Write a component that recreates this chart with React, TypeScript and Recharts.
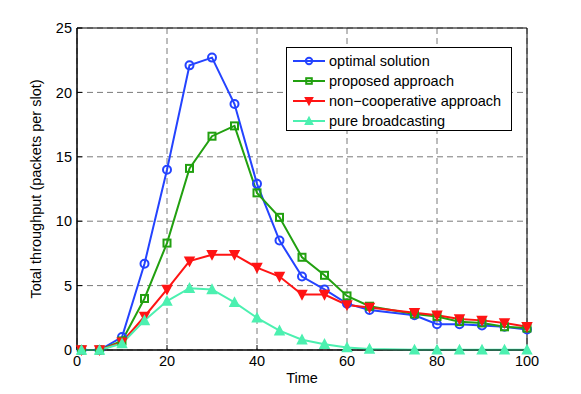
import React from 'react';
import {
  LineChart,
  Line,
  XAxis,
  YAxis,
  CartesianGrid,
  Legend,
  ReferenceArea,
} from 'recharts';

const TIME = [1, 5, 10, 15, 20, 25, 30, 35, 40, 45, 50, 55, 60, 65, 75, 80, 85, 90, 95, 100];
const OPTIMAL = [0, 0, 1.0, 6.7, 14.0, 22.1, 22.7, 19.1, 12.9, 8.5, 5.7, 4.7, 3.6, 3.1, 2.7, 2.0, 2.0, 1.9, 1.8, 1.6];
const PROPOSED = [0, 0, 0.7, 4.0, 8.3, 14.1, 16.6, 17.4, 12.2, 10.3, 7.2, 5.8, 4.2, 3.4, 2.8, 2.6, 2.2, 2.1, 1.8, 1.7];
const NONCOOP = [0, 0, 0.6, 2.6, 4.7, 6.9, 7.4, 7.4, 6.4, 5.7, 4.3, 4.3, 3.5, 3.3, 2.9, 2.7, 2.4, 2.3, 2.1, 1.8];
const BROADCAST = [0, 0, 0.5, 2.3, 3.8, 4.8, 4.7, 3.7, 2.5, 1.5, 0.8, 0.45, 0.2, 0.08, 0.02, 0.02, 0.02, 0.02, 0.02, 0.02];

const X_TICKS = [0, 20, 40, 60, 80, 100];
const Y_TICKS = [0, 5, 10, 15, 20, 25];

const SERIES = [
  { key: 'optimal', name: 'optimal solution', color: '#2443ff', marker: 'circle' },
  { key: 'proposed', name: 'proposed approach', color: '#22a010', marker: 'square' },
  { key: 'noncoop', name: 'non\u2212cooperative approach', color: '#ff1414', marker: 'down' },
  { key: 'broadcast', name: 'pure broadcasting', color: '#4cf0b0', marker: 'up' },
];

const data = TIME.map((t, i) => ({
  t,
  optimal: OPTIMAL[i],
  proposed: PROPOSED[i],
  noncoop: NONCOOP[i],
  broadcast: BROADCAST[i],
}));

const FONT = '"Liberation Sans", Arial, sans-serif';
const FS = 14.5;

function Marker({ cx, cy, kind, color, size = 1 }: any) {
  if (cx == null || cy == null) return null;
  const k = size;
  if (kind === 'circle') {
    return <circle cx={cx} cy={cy} r={4 * k} fill="none" stroke={color} strokeWidth={2} />;
  }
  if (kind === 'square') {
    return <rect x={cx - 3.5 * k} y={cy - 3.5 * k} width={7 * k} height={7 * k} fill="none" stroke={color} strokeWidth={2} />;
  }
  if (kind === 'down') {
    return (
      <polygon
        points={`${cx - 4.5 * k},${cy - 4 * k} ${cx + 4.5 * k},${cy - 4 * k} ${cx},${cy + 4.5 * k}`}
        fill={color}
        stroke={color}
        strokeWidth={1.5}
      />
    );
  }
  return (
    <polygon
      points={`${cx - 4.5 * k},${cy + 4 * k} ${cx + 4.5 * k},${cy + 4 * k} ${cx},${cy - 4.5 * k}`}
      fill={color}
      stroke={color}
      strokeWidth={1.5}
    />
  );
}

function LegendBox() {
  return (
    <div
      style={{
        position: 'absolute',
        left: 286,
        top: 47,
        width: 226,
        height: 84,
        border: '1px solid #000',
        background: '#fff',
        boxSizing: 'border-box',
        fontFamily: FONT,
        fontSize: FS,
        color: '#000',
        paddingTop: 3,
      }}
    >
      {SERIES.map((s) => (
        <div key={s.key} style={{ height: 20, display: 'flex', alignItems: 'center' }}>
          <svg width={42} height={20} style={{ flex: 'none' }}>
            <line x1={6} y1={10} x2={38} y2={10} stroke={s.color} strokeWidth={2} />
            <Marker cx={22} cy={10} kind={s.marker} color={s.color} size={0.8} />
          </svg>
          <span>{s.name}</span>
        </div>
      ))}
    </div>
  );
}

export default function App() {
  return (
    <div style={{ position: 'relative', width: 581, height: 394, background: '#fff' }}>
      <style>{'body{margin:0}'}</style>
      <LineChart
        width={581}
        height={394}
        data={data}
        margin={{ top: 28, right: 54, bottom: 14, left: 37 }}
        style={{ fontFamily: FONT }}
      >
        <CartesianGrid stroke="#7a7a7a" strokeDasharray="6 4" />
        <XAxis
          dataKey="t"
          type="number"
          domain={[0, 100]}
          ticks={X_TICKS}
          height={30}
          tickSize={-5}
          tickMargin={11}
          stroke="#000"
          tick={{ fill: '#000', fontSize: FS }}
          label={{ value: 'Time', position: 'insideBottom', offset: -3, fill: '#000', fontSize: FS }}
        />
        <YAxis
          type="number"
          domain={[0, 25]}
          ticks={Y_TICKS}
          width={40}
          tickSize={-5}
          tickMargin={10}
          stroke="#000"
          tick={{ fill: '#000', fontSize: FS }}
          label={{
            value: 'Total throughput (packets per slot)',
            angle: -90,
            position: 'insideLeft',
            offset: -1,
            style: { textAnchor: 'middle' },
            fill: '#000',
            fontSize: FS,
          }}
        />
        <ReferenceArea x1={0} x2={100} y1={0} y2={25} fill="none" stroke="#000" strokeWidth={1} ifOverflow="visible" />
        {SERIES.map((s) => (
          <Line
            key={s.key}
            dataKey={s.key}
            name={s.name}
            stroke={s.color}
            strokeWidth={2}
            isAnimationActive={false}
            dot={(p: any) => <Marker key={`${s.key}-${p.index}`} cx={p.cx} cy={p.cy} kind={s.marker} color={s.color} />}
            activeDot={false}
          />
        ))}
        <Legend content={() => null} />
      </LineChart>
      <LegendBox />
    </div>
  );
}
